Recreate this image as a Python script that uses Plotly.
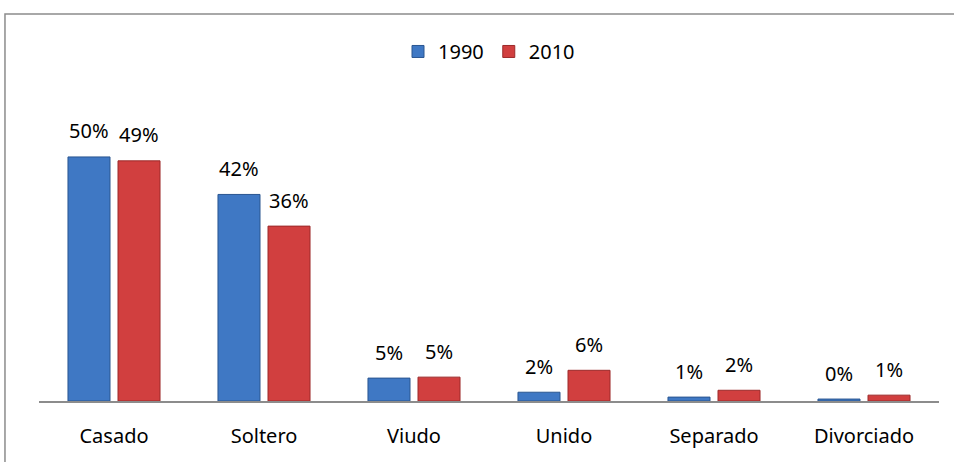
import plotly.graph_objects as go

# estado civil, porcentaje de la población
categorias = ["Casado", "Soltero", "Viudo", "Unido", "Separado", "Divorciado"]
valores_1990 = [50.1, 42.4, 4.7, 1.8, 0.8, 0.4]
valores_2010 = [49.3, 35.9, 4.9, 6.3, 2.2, 1.2]
series = [("1990", valores_1990, "#3f78c4", "#2a5690"), ("2010", valores_2010, "#d13f3f", "#9c2a2a")]

FONT = "Noto Sans"
SIZE = 20

fig = go.Figure()
for nombre, valores, color, borde in series:
    fig.add_trace(
        go.Bar(
            x=categorias,
            y=valores,
            name=nombre,
            marker=dict(color=color, line=dict(color=borde, width=1)),
        )
    )

# etiquetas de porcentaje encima de cada barra
offsets = {"1990": -25, "2010": 25}
for nombre, valores, _, _ in series:
    for cat, v in zip(categorias, valores):
        fig.add_annotation(
            x=cat,
            y=v,
            text=f"{v:.0f}%",
            showarrow=False,
            xshift=offsets[nombre],
            yshift=26,
            font=dict(family=FONT, size=SIZE, color="#000"),
        )

# marco del gráfico (solo se ven los bordes superior e izquierdo)
fig.add_shape(
    type="rect",
    xref="paper",
    yref="paper",
    x0=-0.0378,
    x1=1.3,
    y0=-0.5,
    y1=1.135,
    line=dict(color="#8c8c8c", width=1.5),
)

fig.update_layout(
    width=954,
    height=462,
    margin=dict(l=39, r=15, t=60, b=61),
    paper_bgcolor="white",
    plot_bgcolor="white",
    barmode="group",
    bargap=0.333,
    bargroupgap=0.16,
    showlegend=True,
    legend=dict(
        orientation="h",
        x=0.5,
        xanchor="center",
        y=1.025,
        yanchor="middle",
        font=dict(family=FONT, size=SIZE, color="#000"),
        itemwidth=30,
    ),
    font=dict(family=FONT, size=SIZE, color="#000"),
)
fig.update_xaxes(
    showline=True,
    linecolor="#8c8c8c",
    linewidth=2,
    ticks="",
    ticklabelstandoff=16,
    tickfont=dict(family=FONT, size=SIZE, color="#000"),
)
fig.update_yaxes(range=[0, 70], visible=False, showgrid=False, zeroline=False)

fig.write_html(
    "out.html",
    config={"displayModeBar": False},
    post_script="document.body.style.margin='0';",
)
